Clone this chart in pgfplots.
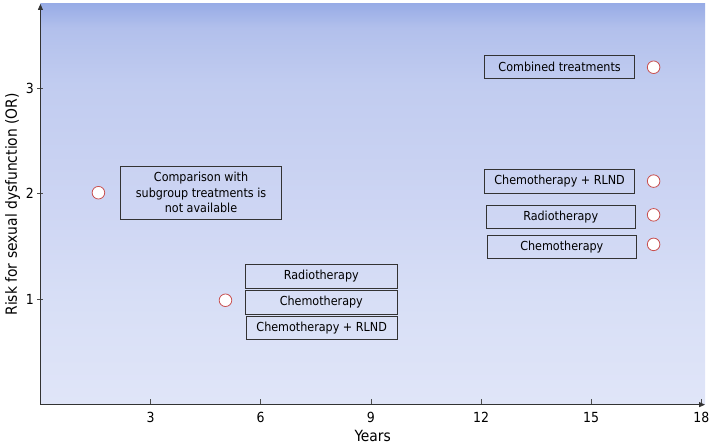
\documentclass[border=0pt]{standalone}
\usepackage{pgfplots}
\pgfplotsset{compat=1.18}
\usepackage{fontspec}
\setmainfont{DejaVu Sans Condensed}
\usetikzlibrary{arrows.meta}
\definecolor{mk}{RGB}{200,80,80}
\pgfdeclareverticalshading{bgshade}{100bp}{%
  rgb(0bp)=(0.878,0.898,0.973); rgb(25bp)=(0.878,0.898,0.973);
  rgb(37.5bp)=(0.847,0.875,0.965); rgb(50bp)=(0.804,0.835,0.953);
  rgb(65bp)=(0.757,0.800,0.941); rgb(72bp)=(0.698,0.753,0.925);
  rgb(75bp)=(0.596,0.675,0.902); rgb(100bp)=(0.596,0.675,0.902)}
\begin{document}
\begin{tikzpicture}[x=1bp,y=1bp]
\useasboundingbox (-40.5,-40.5) rectangle (670,405.5);
\begin{axis}[
  at={(0,0)}, anchor=origin,
  scale only axis, width=666bp, height=401.5bp,
  xmin=0, xmax=18.1, ymin=0, ymax=3.8,
  axis lines=left,
  axis line style={black!80, line width=0.8pt, -{Triangle[length=6bp,width=5bp]}},
  axis background/.style={shading=bgshade},
  xtick={3,6,9,12,15,18}, ytick={1,2,3},
  x tick style={black!70, line width=0.6pt}, y tick style={black!70, line width=0.6pt},
  xtick align=inside, ytick align=center,
  major tick length=6bp,
  tick label style={font=\fontsize{14}{15}\selectfont},
  xticklabel style={yshift=-4bp},
  /pgf/number format/assume math mode=true,
  xlabel={Years}, ylabel={Risk for sexual dysfunction (OR)},
  xlabel style={font=\fontsize{15.5}{17}\selectfont, yshift=-1bp},
  ylabel style={font=\fontsize{15.5}{17}\selectfont, yshift=-1bp},
  clip=false,
]
\addplot[only marks, mark=*, mark size=6.3bp, mark options={draw=mk, fill=white, line width=0.8pt}]
  coordinates {(1.58,2.01) (5.04,0.99) (16.7,3.2) (16.7,2.12) (16.7,1.80) (16.7,1.52)};
\tikzset{bx/.style={draw=black!80, line width=0.7pt, inner sep=0pt, align=center,
  font=\fontsize{12.5}{15.5}\selectfont, minimum height=23.5bp}}
\node[bx, minimum width=161bp, minimum height=53bp] at (axis cs:4.375,2.01)
  {Comparison with\\subgroup treatments is\\not available};
\node[bx, minimum width=152bp] at (axis cs:7.65,1.218) {Radiotherapy};
\node[bx, minimum width=152bp] at (axis cs:7.65,0.972) {Chemotherapy};
\node[bx, minimum width=151bp] at (axis cs:7.66,0.73) {Chemotherapy + RLND};
\node[bx, minimum width=150bp] at (axis cs:14.14,3.204) {Combined treatments};
\node[bx, minimum width=150bp] at (axis cs:14.14,2.118) {Chemotherapy + RLND};
\node[bx, minimum width=150bp] at (axis cs:14.17,1.782) {Radiotherapy};
\node[bx, minimum width=150bp] at (axis cs:14.2,1.498) {Chemotherapy};
\end{axis}
\end{tikzpicture}
\end{document}
